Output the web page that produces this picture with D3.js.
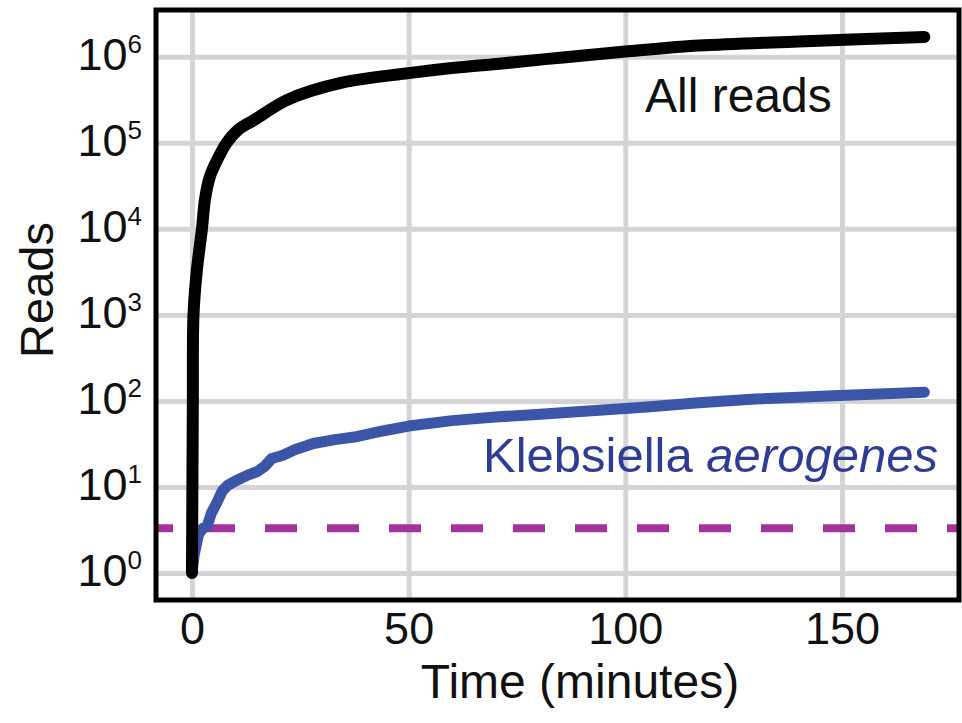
<!DOCTYPE html>
<html>
<head>
<meta charset="utf-8">
<script src="https://cdn.jsdelivr.net/npm/d3@7"></script>
<style>
  body { margin: 0; background: #fff; }
  svg { display: block; font-family: "Liberation Sans", Arial, sans-serif; }
</style>
</head>
<body>
<div id="drawing"></div>
<script>
// time in minutes, cumulative reads
const allTime  = [0, 0.1, 0.2, 0.35, 1.1, 2.3, 3, 4.1, 5.8, 8, 10.6, 14.5, 22, 34.6, 50, 60, 71, 85, 100, 117, 140, 169];
const allReads = [1, 10, 100, 1000, 3200, 10000, 22000, 40000, 63000, 100000, 141000, 186000, 316000, 500000, 646000, 741000, 832000, 977000, 1150000, 1350000, 1510000, 1700000];

const klebTime  = [0, 0.5, 1.5, 2.5, 3.5, 4.5, 5.7, 7, 8.3, 10, 13, 15, 16.8, 18.4, 21, 23.7, 28, 33, 37.5, 44, 50, 60, 70, 78.6, 94, 105, 117, 130, 148, 169];
const klebReads = [1, 1.6, 2.8, 3.3, 3.5, 5, 6.5, 9, 10.5, 11.7, 13.8, 15, 17.4, 21.4, 23.4, 27, 32, 35.5, 38, 44.7, 51, 59, 65, 69, 78, 85, 95, 105, 115, 126];

const threshold = 3.3;

const xTicks = [0, 50, 100, 150];
const yTicks = [1, 10, 100, 1000, 10000, 100000, 1000000];
const yExponents = ["0", "1", "2", "3", "4", "5", "6"];

const width = 962;
const height = 723;
const margin = {top: 10, right: 3, bottom: 123, left: 156};
const innerW = width - margin.left - margin.right;
const innerH = height - margin.top - margin.bottom;

const svg = d3.select("#drawing").append("svg")
  .attr("width", width)
  .attr("height", height);

const g = svg.append("g")
  .attr("transform", `translate(${margin.left}, ${margin.top})`);

const xScale = d3.scaleLinear()
  .domain([-8.3, 177])
  .range([0, innerW]);

const yScale = d3.scaleLog()
  .domain([0.485, 3.5e6])
  .range([innerH, 0]);

// grid
g.append("g")
  .attr("transform", `translate(0, ${innerH})`)
  .call(d3.axisBottom(xScale).tickValues(xTicks).tickSize(-innerH).tickFormat(""))
  .call(a => a.select(".domain").remove())
  .selectAll("line")
  .attr("stroke", "#d4d4d6")
  .attr("stroke-width", 5);

g.append("g")
  .call(d3.axisLeft(yScale).tickValues(yTicks).tickSize(-innerW).tickFormat(""))
  .call(a => a.select(".domain").remove())
  .selectAll("line")
  .attr("stroke", "#d4d4d6")
  .attr("stroke-width", 5);

// detection threshold
g.append("line")
  .attr("x1", 0)
  .attr("x2", innerW)
  .attr("y1", yScale(threshold))
  .attr("y2", yScale(threshold))
  .attr("stroke", "#a3339b")
  .attr("stroke-width", 8)
  .attr("stroke-dasharray", "32,30")
  .attr("stroke-dashoffset", 15);

const line = d3.line()
  .x(d => xScale(d[0]))
  .y(d => yScale(d[1]));

g.append("path")
  .datum(d3.zip(klebTime, klebReads))
  .attr("d", line)
  .attr("fill", "none")
  .attr("stroke", "#3b55a9")
  .attr("stroke-width", 11)
  .attr("stroke-linecap", "round")
  .attr("stroke-linejoin", "round");

g.append("path")
  .datum(d3.zip(allTime, allReads))
  .attr("d", line.curve(d3.curveCatmullRom.alpha(0.5)))
  .attr("fill", "none")
  .attr("stroke", "#000")
  .attr("stroke-width", 12)
  .attr("stroke-linecap", "round");

// frame
g.append("rect")
  .attr("width", innerW)
  .attr("height", innerH)
  .attr("fill", "none")
  .attr("stroke", "#000")
  .attr("stroke-width", 5);

// tick labels
const xAx = g.append("g")
  .attr("transform", `translate(0, ${innerH})`)
  .call(d3.axisBottom(xScale).tickValues(xTicks).tickSize(0).tickPadding(12));
xAx.select(".domain").remove();
xAx.selectAll("text")
  .attr("font-size", 45)
  .attr("font-family", "Liberation Sans, Arial, sans-serif")
  .attr("fill", "#111");

const yAx = g.append("g")
  .call(d3.axisLeft(yScale).tickValues(yTicks).tickSize(0).tickFormat(""));
yAx.select(".domain").remove();
yAx.selectAll(".tick text").remove();
yAx.selectAll(".tick").each(function(d, i) {
  const t = d3.select(this).append("text")
    .attr("x", -14)
    .attr("y", 13)
    .attr("text-anchor", "end")
    .attr("fill", "#111")
    .attr("font-family", "Liberation Sans, Arial, sans-serif");
  t.append("tspan").attr("font-size", 45).text("10");
  t.append("tspan").attr("font-size", 26).attr("dy", -17).text(yExponents[i]);
});

// axis titles
svg.append("text")
  .attr("x", 580)
  .attr("y", 698)
  .attr("text-anchor", "middle")
  .attr("font-size", 48)
  .attr("fill", "#111")
  .text("Time (minutes)");

svg.append("text")
  .attr("transform", "translate(53, 290) rotate(-90)")
  .attr("text-anchor", "middle")
  .attr("font-size", 47)
  .attr("fill", "#111")
  .text("Reads");

// series labels
svg.append("text")
  .attr("x", 645)
  .attr("y", 112)
  .attr("font-size", 48)
  .attr("fill", "#111")
  .text("All reads");

const kl = svg.append("text")
  .attr("x", 483)
  .attr("y", 472)
  .attr("font-size", 49)
  .attr("fill", "#2f3c94");
kl.append("tspan").text("Klebsiella ");
kl.append("tspan").attr("font-style", "italic").text("aerogenes");
</script>
</body>
</html>
